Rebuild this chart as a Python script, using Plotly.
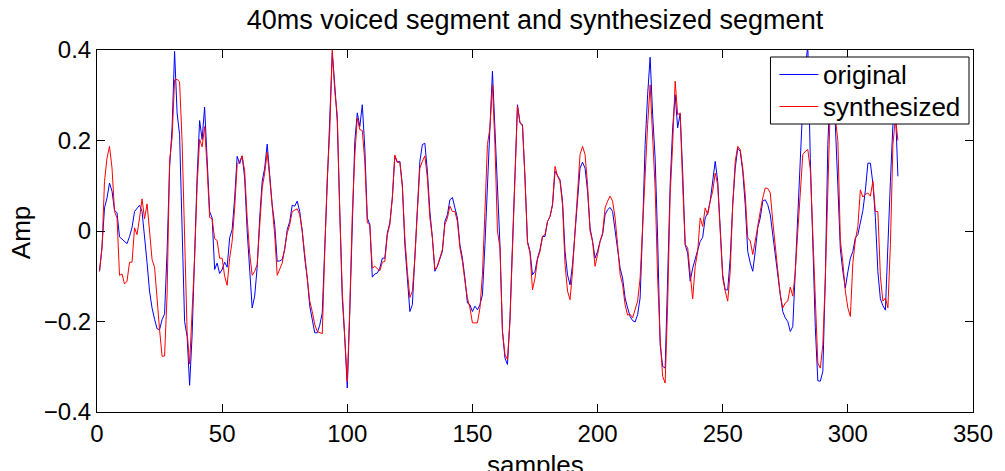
import plotly.graph_objects as go

# Sample index (1..320) of the 40 ms voiced frame
samples = list(range(1, 321))

# Original speech samples
original = [
    -0.089, -0.035, 0.051, 0.073, 0.106, 0.088, 0.046, 0.040, -0.013, -0.018,
    -0.022, -0.028, -0.012, 0.008, 0.043, 0.051, 0.057, 0.043, -0.010, -0.070,
    -0.133, -0.170, -0.195, -0.216, -0.218, -0.196, -0.183, -0.045, 0.139, 0.228,
    0.397, 0.261, 0.213, 0.000, -0.200, -0.233, -0.341, -0.230, -0.050, 0.120,
    0.244, 0.202, 0.274, 0.161, 0.043, 0.029, -0.085, -0.071, -0.094, -0.085,
    -0.069, -0.080, -0.015, 0.003, 0.073, 0.165, 0.149, 0.166, 0.117, 0.000,
    -0.089, -0.170, -0.144, -0.080, 0.029, 0.110, 0.139, 0.192, 0.124, 0.058,
    0.014, -0.067, -0.066, -0.063, -0.041, 0.003, 0.021, 0.057, 0.055, 0.066,
    0.043, 0.000, -0.060, -0.104, -0.166, -0.192, -0.225, -0.225, -0.208, -0.181,
    -0.038, 0.124, 0.228, 0.393, 0.323, 0.242, 0.043, -0.148, -0.236, -0.347,
    -0.178, 0.043, 0.198, 0.261, 0.231, 0.279, 0.183, 0.029, 0.014, -0.102,
    -0.095, -0.093, -0.082, -0.060, -0.060, -0.004, 0.018, 0.073, 0.165, 0.152,
    0.154, 0.102, -0.030, -0.104, -0.178, -0.163, -0.067, 0.043, 0.154, 0.191,
    0.194, 0.132, 0.043, -0.015, -0.089, -0.078, -0.060, -0.045, 0.021, 0.036,
    0.069, 0.074, 0.051, 0.029, -0.030, -0.060, -0.104, -0.159, -0.163, -0.178,
    -0.166, -0.174, -0.163, -0.141, -0.030, 0.117, 0.228, 0.353, 0.228, 0.102,
    -0.030, -0.222, -0.281, -0.295, -0.192, -0.030, 0.132, 0.279, 0.239, 0.235,
    0.117, -0.023, -0.045, -0.097, -0.089, -0.060, -0.041, -0.012, -0.012, 0.021,
    0.032, 0.058, 0.132, 0.121, 0.113, 0.066, -0.045, -0.097, -0.119, -0.074,
    0.000, 0.080, 0.139, 0.152, 0.139, 0.088, 0.007, -0.023, -0.060, -0.045,
    -0.023, -0.008, 0.036, 0.047, 0.052, 0.043, 0.000, -0.045, -0.082, -0.104,
    -0.148, -0.170, -0.189, -0.198, -0.201, -0.185, -0.148, 0.007, 0.191, 0.301,
    0.384, 0.257, 0.161, -0.015, -0.251, -0.299, -0.303, -0.104, 0.102, 0.228,
    0.301, 0.228, 0.259, 0.132, -0.030, -0.049, -0.111, -0.082, -0.060, -0.042,
    -0.023, -0.014, 0.029, 0.040, 0.066, 0.117, 0.154, 0.110, 0.000, -0.097,
    -0.130, -0.130, -0.060, 0.058, 0.139, 0.183, 0.176, 0.132, 0.058, -0.045,
    -0.071, -0.089, -0.045, 0.007, 0.029, 0.066, 0.069, 0.058, 0.036, -0.008,
    -0.052, -0.104, -0.141, -0.178, -0.192, -0.200, -0.222, -0.211, -0.095, 0.050,
    0.160, 0.280, 0.360, 0.410, 0.160, -0.030, -0.214, -0.331, -0.332, -0.310,
    -0.104, 0.191, 0.330, 0.280, 0.235, 0.100, -0.040, -0.089, -0.126, -0.090,
    -0.060, -0.045, -0.015, -0.008, 0.020, 0.045, 0.090, 0.150, 0.150, 0.105,
    0.030, -0.090, -0.150, -0.165, -0.175, -0.020, 0.110, 0.235, 0.270, 0.121,
]

# Synthesized samples
synthesized = [
    -0.089, -0.038, 0.110, 0.161, 0.187, 0.139, 0.043, 0.029, -0.098, -0.095,
    -0.117, -0.111, -0.069, -0.069, 0.007, -0.008, 0.029, 0.071, 0.027, 0.060,
    0.000, -0.063, -0.080, -0.155, -0.218, -0.277, -0.276, -0.141, 0.154, 0.206,
    0.334, 0.335, 0.330, 0.198, -0.045, -0.222, -0.294, -0.192, -0.060, 0.100,
    0.203, 0.186, 0.231, 0.139, 0.030, 0.027, -0.017, -0.021, -0.060, -0.060,
    -0.100, -0.120, -0.060, -0.023, 0.051, 0.147, 0.154, 0.166, 0.132, 0.029,
    -0.049, -0.098, -0.089, -0.074, 0.000, 0.095, 0.128, 0.174, 0.117, 0.051,
    -0.008, -0.098, -0.083, -0.071, -0.038, -0.004, 0.014, 0.043, 0.046, 0.049,
    0.036, 0.000, -0.052, -0.104, -0.155, -0.178, -0.207, -0.222, -0.225, -0.227,
    -0.045, 0.117, 0.221, 0.400, 0.309, 0.257, 0.043, -0.133, -0.236, -0.333,
    -0.170, 0.036, 0.166, 0.250, 0.224, 0.222, 0.154, 0.018, 0.014, -0.082,
    -0.078, -0.082, -0.088, -0.069, -0.067, -0.008, 0.014, 0.073, 0.168, 0.152,
    0.152, 0.098, -0.015, -0.089, -0.147, -0.133, -0.060, 0.043, 0.139, 0.154,
    0.166, 0.117, 0.029, -0.015, -0.085, -0.078, -0.060, -0.041, 0.014, 0.029,
    0.055, 0.043, 0.043, 0.021, -0.037, -0.067, -0.111, -0.148, -0.170, -0.203,
    -0.203, -0.203, -0.170, -0.096, 0.043, 0.191, 0.228, 0.323, 0.191, 0.000,
    -0.037, -0.222, -0.273, -0.284, -0.200, -0.030, 0.139, 0.276, 0.239, 0.232,
    0.117, -0.026, -0.048, -0.130, -0.104, -0.063, -0.045, -0.012, -0.008, 0.021,
    0.032, 0.058, 0.143, 0.121, 0.110, 0.058, -0.074, -0.133, -0.152, -0.089,
    0.000, 0.095, 0.169, 0.187, 0.169, 0.102, 0.000, -0.023, -0.078, -0.052,
    -0.023, -0.004, 0.051, 0.066, 0.077, 0.066, 0.029, -0.030, -0.096, -0.119,
    -0.163, -0.186, -0.184, -0.192, -0.174, -0.155, -0.104, 0.021, 0.147, 0.235,
    0.323, 0.191, 0.095, -0.104, -0.236, -0.321, -0.336, -0.163, 0.080, 0.191,
    0.331, 0.257, 0.261, 0.102, -0.030, -0.037, -0.100, -0.150, -0.078, -0.045,
    0.029, 0.010, 0.051, 0.036, 0.066, 0.088, 0.128, 0.102, 0.000, -0.104,
    -0.133, -0.155, -0.089, 0.058, 0.154, 0.187, 0.180, 0.139, 0.080, -0.015,
    -0.022, -0.052, -0.022, 0.014, 0.043, 0.073, 0.095, 0.094, 0.084, 0.021,
    -0.030, -0.089, -0.141, -0.170, -0.159, -0.155, -0.124, -0.144, -0.089, 0.000,
    0.088, 0.169, 0.176, 0.180, 0.136, 0.000, -0.148, -0.292, -0.303, -0.251,
    -0.104, 0.102, 0.280, 0.270, 0.250, 0.200, -0.020, -0.070, -0.133, -0.170,
    -0.189, -0.070, -0.020, 0.010, 0.091, 0.075, 0.081, 0.084, 0.077, 0.110,
    0.043, 0.043, -0.100, -0.155, -0.148, -0.170, -0.030, 0.191, 0.250, 0.200,
]

x_ticks = [0, 50, 100, 150, 200, 250, 300, 350]
y_ticks = [-0.4, -0.2, 0, 0.2, 0.4]

series_names = ["original", "synthesized"]
series_colors = ["#0000ff", "#ff0000"]

FONT = "Liberation Sans, Arial, Helvetica, sans-serif"

# Figure / plot-area geometry in pixels
W, H = 1005, 471
L, R, T, B = 97, 30, 50, 59
PW, PH = W - L - R, H - T - B


def px_x(px):
    return (px - L) / PW


def px_y(py):
    return (H - B - py) / PH


fig = go.Figure()
for name, values, color in zip(series_names, [original, synthesized], series_colors):
    fig.add_trace(go.Scatter(x=samples, y=values, mode="lines", name=name,
                             line=dict(color=color, width=1), showlegend=False))

axis_common = dict(showline=True, linecolor="black", linewidth=1, mirror="allticks",
                   ticks="inside", ticklen=8, tickcolor="black", tickwidth=1,
                   showgrid=False, zeroline=False,
                   tickfont=dict(family=FONT, size=24, color="black"))

fig.update_xaxes(range=[0, 350], tickvals=x_ticks, **axis_common)
fig.update_yaxes(range=[-0.4, 0.4], tickvals=y_ticks, **axis_common)

# Legend box drawn in the upper-right corner of the axes (white, on top of the lines)
shapes = [dict(type="rect", xref="paper", yref="paper",
               x0=px_x(772), x1=px_x(971), y0=px_y(124), y1=px_y(57),
               fillcolor="white", line=dict(color="black", width=1), layer="above")]
annotations = []
for i, (name, color) in enumerate(zip(series_names, series_colors)):
    row_y = 74.5 + 32 * i
    shapes.append(dict(type="line", xref="paper", yref="paper",
                       x0=px_x(781), x1=px_x(820), y0=px_y(row_y), y1=px_y(row_y),
                       line=dict(color=color, width=1), layer="above"))
    annotations.append(dict(text=name, x=px_x(823), xref="paper", y=px_y(row_y), yref="paper",
                            xanchor="left", yanchor="middle", showarrow=False,
                            font=dict(family=FONT, size=26, color="black")))

annotations += [
    dict(text="samples", x=0.5, xref="paper", y=px_y(465), yref="paper",
         xanchor="center", yanchor="middle", showarrow=False,
         font=dict(family=FONT, size=26, color="black")),
    dict(text="Amp", x=px_x(21), xref="paper", y=px_y(233), yref="paper",
         xanchor="center", yanchor="middle", textangle=-90, showarrow=False,
         font=dict(family=FONT, size=26, color="black")),
]

fig.update_layout(
    width=W, height=H,
    margin=dict(l=L, r=R, t=T, b=B),
    paper_bgcolor="white", plot_bgcolor="white",
    font=dict(family=FONT, color="black"),
    showlegend=False,
    title=dict(text="40ms voiced segment and synthesized segment",
               x=0.5, xref="paper", xanchor="center",
               y=1 - 20 / H, yref="container", yanchor="middle",
               font=dict(family=FONT, size=27, color="black")),
    shapes=shapes,
    annotations=annotations,
)

fig.write_html("out.html")
